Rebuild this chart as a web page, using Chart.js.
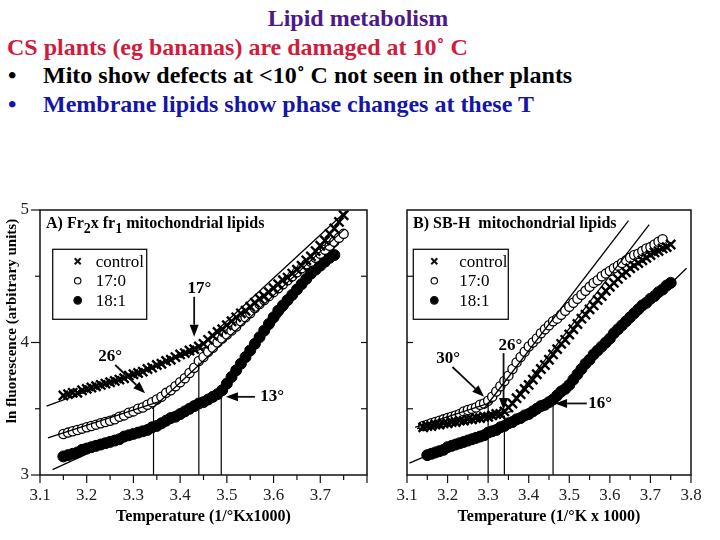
<!DOCTYPE html>
<html>
<head>
<meta charset="utf-8">
<script src="https://cdn.jsdelivr.net/npm/chart.js@4.4.1/dist/chart.umd.min.js"></script>
<style>
html, body { margin: 0; padding: 0; background: #fff; }
#slide { position: relative; width: 720px; height: 540px; overflow: hidden; font-family: "Liberation Serif", "Times New Roman", serif; }
.ln { position: absolute; font-weight: bold; font-size: 24px; line-height: 24px; white-space: nowrap; }
canvas { position: absolute; }
</style>
</head>
<body>
<div id="slide">
  <div class="ln" style="left:0;width:716px;text-align:center;top:6px;color:#4d1a8a">Lipid metabolism</div>
  <div class="ln" style="left:7px;top:35px;color:#d01c3c">CS plants (eg bananas) are damaged at 10˚ C</div>
  <div class="ln" style="left:8px;top:63px;color:#000">•</div>
  <div class="ln" style="left:43px;top:63px;color:#000">Mito show defects at &lt;10˚ C not seen in other plants</div>
  <div class="ln" style="left:8px;top:92px;color:#1515a8">•</div>
  <div class="ln" style="left:43px;top:92px;color:#1515a8">Membrane lipids show phase changes at these T</div>
  <canvas id="chartA" width="380" height="330" style="left:0;top:200px"></canvas>
  <canvas id="chartB" width="380" height="330" style="left:340px;top:200px"></canvas>
</div>
<script>
// ---- data (1/K x 1000 -> ln fluorescence) ----
const temps = [3.14,
  3.15,3.16,3.17,3.18,3.19,3.20,3.21,3.22,3.23,3.24,
  3.25,3.26,3.27,3.28,3.29,3.30,3.31,3.32,3.33,3.34,
  3.35,3.36,3.37,3.38,3.39,3.40,3.41,3.42,3.43,3.44,
  3.45,3.46,3.47,3.48,3.49,3.50,3.51,3.52,3.53,3.54,
  3.55,3.56,3.57,3.58,3.59,3.60,3.61,3.62,3.63,3.64,
  3.65,3.66,3.67,3.68,3.69,3.70,3.71,3.72,3.73,3.74,
  3.75];

// panel A: Fr2 x fr1
const aControl = [null,
  3.60,3.61,3.62,3.62,3.64,3.65,3.66,3.67,3.68,3.69,
  3.70,3.71,3.72,3.73,3.75,3.76,3.77,3.78,3.80,3.81,
  3.83,3.84,3.86,3.87,3.89,3.91,3.92,3.94,3.95,3.97,
  3.99,4.02,4.05,4.08,4.10,4.13,4.16,4.19,4.22,4.24,
  4.27,4.30,4.33,4.35,4.38,4.41,4.44,4.47,4.49,4.52,
  4.55,4.58,4.62,4.65,4.69,4.73,4.77,4.82,4.86,4.91,
  4.96];
const a170 = [null,
  3.31,3.32,3.33,3.34,3.35,3.36,3.37,3.38,3.39,3.40,
  3.41,3.42,3.44,3.45,3.47,3.48,3.50,3.51,3.53,3.55,
  3.57,3.59,3.62,3.64,3.67,3.70,3.73,3.77,3.81,3.86,
  3.89,3.93,3.96,4.00,4.03,4.06,4.09,4.12,4.16,4.19,
  4.22,4.26,4.29,4.32,4.35,4.38,4.41,4.44,4.47,4.50,
  4.53,4.56,4.59,4.61,4.64,4.67,4.70,4.73,4.76,4.79,
  4.82];
const a181 = [null,
  3.14,3.15,3.16,3.17,3.19,3.20,3.21,3.22,3.23,3.24,
  3.25,3.26,3.27,3.29,3.30,3.31,3.32,3.33,3.34,3.36,
  3.37,3.39,3.41,3.43,3.44,3.46,3.48,3.50,3.52,3.54,
  3.55,3.57,3.59,3.61,3.64,3.69,3.74,3.79,3.84,3.89,
  3.94,3.99,4.04,4.09,4.14,4.19,4.24,4.28,4.32,4.36,
  4.40,4.44,4.48,4.52,4.55,4.58,4.61,4.64,4.66,null,
  null];

// panel B: SB-H
const bControl = [3.36,
  3.37,3.37,3.38,3.38,3.39,3.39,3.40,3.40,3.41,3.41,
  3.42,3.42,3.43,3.43,3.44,3.44,3.45,3.46,3.46,3.48,
  3.51,3.54,3.58,3.61,3.65,3.68,3.72,3.76,3.80,3.83,
  3.87,3.91,3.95,3.99,4.02,4.06,4.10,4.14,4.18,4.21,
  4.25,4.28,4.32,4.35,4.39,4.42,4.45,4.48,4.51,4.53,
  4.56,4.58,4.60,4.62,4.64,4.66,4.68,4.69,4.71,4.72,
  4.74];
const b170 = [3.37,
  3.38,3.39,3.40,3.41,3.42,3.43,3.44,3.45,3.46,3.48,
  3.49,3.50,3.51,3.53,3.54,3.56,3.59,3.63,3.67,3.71,
  3.75,3.80,3.85,3.89,3.93,3.97,4.00,4.03,4.07,4.10,
  4.13,4.16,4.18,4.21,4.24,4.27,4.30,4.33,4.36,4.39,
  4.42,4.45,4.47,4.50,4.52,4.54,4.56,4.58,4.60,4.62,
  4.64,4.66,4.67,4.69,4.71,4.72,4.74,4.76,4.78,null,
  null];
const b181 = [null,
  3.15,3.16,3.17,3.18,3.19,3.21,3.22,3.23,3.24,3.25,
  3.26,3.27,3.28,3.29,3.30,3.32,3.33,3.34,3.36,3.37,
  3.39,3.40,3.42,3.43,3.45,3.46,3.48,3.50,3.52,3.53,
  3.55,3.57,3.60,3.63,3.65,3.68,3.72,3.76,3.80,3.84,
  3.87,3.91,3.94,3.97,4.00,4.03,4.07,4.10,4.13,4.16,
  4.19,4.22,4.25,4.28,4.30,4.33,4.35,4.38,4.40,4.43,
  4.45];

// straight-line fits: [x1, y1, x2, y2]
const aFits = [
  [3.114, 3.52, 3.46, 3.97],
  [3.42, 3.90, 3.755, 4.99],
  [3.117, 3.28, 3.36, 3.56],
  [3.34, 3.50, 3.75, 4.85],
  [3.127, 3.04, 3.50, 3.645],
  [3.48, 3.60, 3.74, 4.76]
];
const bFits = [
  [3.125, 3.35, 3.36, 3.48],
  [3.33, 3.43, 3.697, 4.89],
  [3.12, 3.36, 3.31, 3.55],
  [3.29, 3.50, 3.646, 4.92],
  [3.106, 3.09, 3.47, 3.57],
  [3.44, 3.52, 3.789, 4.56]
];
// transition drop lines: [x, top y]
const aDrops = [[3.343, 3.52], [3.44, 3.85], [3.488, 3.63]];
const bDrops = [[3.30, 3.55], [3.34, 3.45], [3.46, 3.57]];

const xTicks = [3.1,3.15,3.2,3.25,3.3,3.35,3.4,3.45,3.5,3.55,3.6,3.65,3.7,3.75,3.8];
const yTicks = [3, 3.5, 4, 4.5, 5];
const legendOrder = ['control', '17:0', '18:1'];

// annotations (data coords)
const notesA = [
  { text: '17°', tx: 3.441, ty: 4.41, from: [3.43, 4.345], to: [3.43, 4.044] },
  { text: '26°', tx: 3.25, ty: 3.893, from: [3.261, 3.83], to: [3.325, 3.617] },
  { text: '13°', tx: 3.597, ty: 3.59, from: [3.56, 3.59], to: [3.498, 3.59] }
];
const notesB = [
  { text: '30°', tx: 3.2015, ty: 3.875, from: [3.212, 3.815], to: [3.29, 3.59] },
  { text: '26°', tx: 3.355, ty: 3.98, from: [3.338, 3.92], to: [3.338, 3.49] },
  { text: '16°', tx: 3.576, ty: 3.54, from: [3.543, 3.54], to: [3.465, 3.54] }
];

const SERIF = '"Liberation Serif", "Times New Roman", serif';
Chart.defaults.font.family = SERIF;
Chart.defaults.color = '#111';

function pts(vals) {
  return temps.map((t, i) => vals[i] == null ? null : { x: t, y: vals[i] }).filter(p => p);
}

function buildDatasets(ctl, c170, c181, fits, drops) {
  const ds = [];
  fits.forEach(f => ds.push({
    data: [{ x: f[0], y: f[1] }, { x: f[2], y: f[3] }],
    showLine: true, borderColor: '#000', borderWidth: 1.3, pointRadius: 0, order: 0
  }));
  drops.forEach(d => ds.push({
    data: [{ x: d[0], y: yTicks[0] }, { x: d[0], y: d[1] }],
    showLine: true, borderColor: '#000', borderWidth: 1.2, pointRadius: 0, order: 0
  }));
  ds.push({ label: '18:1', data: pts(c181), pointStyle: 'circle', pointRadius: 5.5,
    backgroundColor: '#000', borderColor: '#000', borderWidth: 1, order: 3 });
  ds.push({ label: '17:0', data: pts(c170), pointStyle: 'circle', pointRadius: 4.6,
    backgroundColor: '#fff', borderColor: '#000', borderWidth: 1.3, order: 2 });
  ds.push({ label: 'control', data: pts(ctl), pointStyle: 'crossRot', pointRadius: 6.5,
    backgroundColor: '#000', borderColor: '#000', borderWidth: 2.4, order: 1 });
  return ds;
}

// frame, ticks, panel title, legend box, arrows
const deco = {
  id: 'deco',
  afterDraw(chart, args, o) {
    const { ctx, chartArea: a } = chart;
    const X = v => chart.scales.x.getPixelForValue(v);
    const Y = v => chart.scales.y.getPixelForValue(v);
    const line = (x1, y1, x2, y2) => { ctx.beginPath(); ctx.moveTo(x1, y1); ctx.lineTo(x2, y2); ctx.stroke(); };
    ctx.save();
    ctx.strokeStyle = '#111';
    ctx.fillStyle = '#000';
    ctx.lineWidth = 1.5;
    ctx.strokeRect(a.left, a.top, a.right - a.left, a.bottom - a.top);

    ctx.lineWidth = 1.2;
    xTicks.forEach(v => {
      const major = Math.round(v * 100) % 10 === 0;
      line(X(v), a.bottom, X(v), a.bottom + (major ? 8 : 5));
    });
    yTicks.forEach(v => {
      const major = v % 1 === 0;
      if (o.outerY) line(a.left - (major ? 9 : 5), Y(v), a.left, Y(v));
      if (v > yTicks[0] && v < yTicks[yTicks.length - 1]) {
        if (o.inner === 'right') line(a.right - 6, Y(v), a.right, Y(v));
        else line(a.left, Y(v), a.left + 6, Y(v));
      }
    });

    // panel title with subscripts
    ctx.textAlign = 'left';
    ctx.textBaseline = 'alphabetic';
    let tx = a.left + 6;
    o.title.forEach(([s, sub]) => {
      ctx.font = `bold ${sub ? 14 : 16}px ${SERIF}`;
      ctx.fillText(s, tx, a.top + 18 + (sub ? 5 : 0));
      tx += ctx.measureText(s).width;
    });

    // legend
    const L = o.legend, lx = a.left + L.x, ly = a.top + L.y;
    ctx.lineWidth = 1.3;
    ctx.strokeRect(lx, ly, L.w, L.h);
    ctx.font = `17px ${SERIF}`;
    ctx.textBaseline = 'middle';
    legendOrder.forEach((name, i) => {
      const d = chart.data.datasets.find(s => s.label === name);
      const my = ly + 12 + i * 19.5, mx = lx + L.mx;
      if (d.pointStyle === 'crossRot') {
        ctx.lineWidth = 2;
        line(mx - 3, my - 3, mx + 3, my + 3);
        line(mx - 3, my + 3, mx + 3, my - 3);
      } else {
        ctx.lineWidth = 1.2;
        ctx.beginPath();
        ctx.arc(mx, my, d.backgroundColor === '#000' ? 3.8 : 3.2, 0, Math.PI * 2);
        ctx.fillStyle = d.backgroundColor;
        ctx.fill();
        ctx.stroke();
        ctx.fillStyle = '#000';
      }
      ctx.fillText(name, lx + L.tx, my + 1);
    });

    // annotations
    ctx.font = `bold 17px ${SERIF}`;
    ctx.textAlign = 'center';
    o.notes.forEach(n => {
      ctx.fillText(n.text, X(n.tx), Y(n.ty));
      const x1 = X(n.from[0]), y1 = Y(n.from[1]), x2 = X(n.to[0]), y2 = Y(n.to[1]);
      const ang = Math.atan2(y2 - y1, x2 - x1), hl = 12, hw = 4.5;
      const bx = x2 - hl * Math.cos(ang), by = y2 - hl * Math.sin(ang);
      ctx.lineWidth = 1.8;
      line(x1, y1, bx, by);
      ctx.beginPath();
      ctx.moveTo(x2, y2);
      ctx.lineTo(bx + hw * Math.sin(ang), by - hw * Math.cos(ang));
      ctx.lineTo(bx - hw * Math.sin(ang), by + hw * Math.cos(ang));
      ctx.closePath();
      ctx.fill();
    });

    // y axis title (panel A only)
    if (o.yTitle) {
      ctx.translate(12, a.top + 111);
      ctx.rotate(-Math.PI / 2);
      ctx.font = `bold 15px ${SERIF}`;
      ctx.fillText(o.yTitle, 0, 0);
    }
    ctx.restore();
  }
};

function makeChart(id, datasets, cfg) {
  return new Chart(document.getElementById(id), {
    type: 'scatter',
    data: { datasets },
    options: {
      responsive: false,
      animation: false,
      events: [],
      layout: { autoPadding: false, padding: cfg.padding },
      plugins: { legend: { display: false }, tooltip: { enabled: false }, deco: cfg.deco },
      scales: {
        x: {
          type: 'linear', min: 3.1, max: 3.8,
          afterBuildTicks: s => { s.ticks = xTicks.map(v => ({ value: v })); },
          afterFit: s => { s.height = 55; s.paddingLeft = 0; s.paddingRight = 0; },
          grid: { display: false, drawTicks: false },
          border: { display: false },
          ticks: {
            autoSkip: false, maxRotation: 0, padding: 10, color: '#222',
            font: { family: SERIF, size: 17 },
            callback: v => (Math.round(v * 100) % 10 === 0 && !(cfg.skipLast && v > 3.79)) ? v.toFixed(1) : ''
          },
          title: { display: true, text: cfg.xTitle, color: '#000',
            font: { family: SERIF, size: 16, weight: 'bold' }, padding: { top: 0, bottom: 4 } }
        },
        y: {
          type: 'linear', min: 3, max: 5, display: cfg.showY,
          afterBuildTicks: s => { s.ticks = yTicks.map(v => ({ value: v })); },
          afterFit: s => { s.width = 40; s.paddingTop = 0; s.paddingBottom = 0; },
          grid: { display: false, drawTicks: false },
          border: { display: false },
          ticks: { padding: 11, color: '#222', font: { family: SERIF, size: 17 },
            callback: v => v % 1 === 0 ? String(v) : '' }
        }
      }
    },
    plugins: [deco]
  });
}

makeChart('chartA', buildDatasets(aControl, a170, a181, aFits, aDrops), {
  padding: { left: 0, top: 10, right: 13, bottom: 0 },
  showY: true, skipLast: true,
  xTitle: 'Temperature (1/°Kx1000)',
  deco: {
    title: [['A) Fr', 0], ['2', 1], ['x fr', 0], ['1', 1], [' mitochondrial lipids', 0]],
    legend: { x: 12.7, y: 39.3, w: 94, h: 70, mx: 25, tx: 43 },
    outerY: true, inner: 'right', notes: notesA,
    yTitle: 'ln fluorescence (arbitrary units)'
  }
});

makeChart('chartB', buildDatasets(bControl, b170, b181, bFits, bDrops), {
  padding: { left: 27, top: 10, right: 29, bottom: 0 },
  showY: false, skipLast: false,
  xTitle: 'Temperature (1/°K x 1000)',
  deco: {
    title: [['B) SB-H  mitochondrial lipids', 0]],
    legend: { x: 6.3, y: 39.3, w: 95, h: 70, mx: 21, tx: 46 },
    outerY: false, inner: 'left', notes: notesB
  }
});
</script>
</body>
</html>
